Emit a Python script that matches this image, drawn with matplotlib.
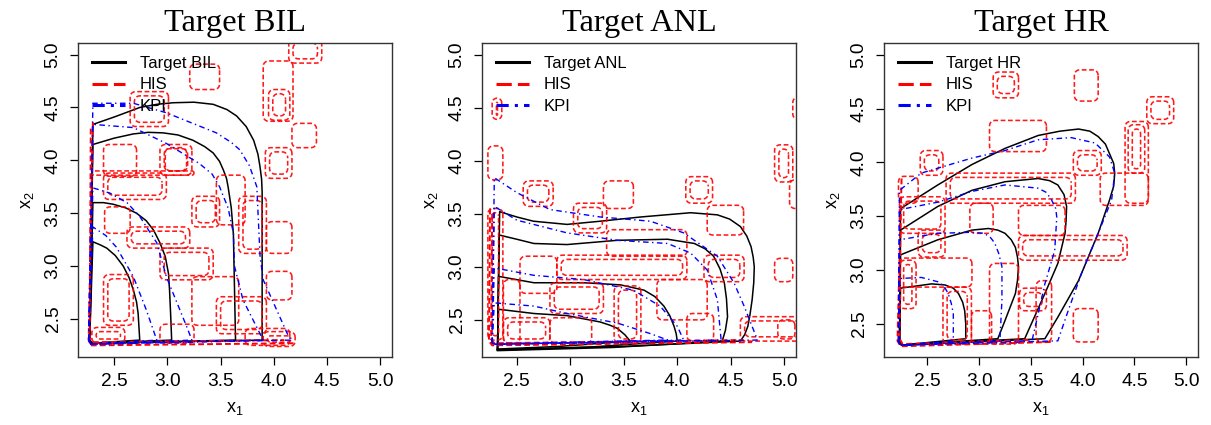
import numpy as np
import matplotlib.pyplot as plt
from matplotlib.lines import Line2D

plt.rcParams['font.family'] = ['Liberation Sans', 'DejaVu Sans']
plt.rcParams['mathtext.fontset'] = 'custom'
plt.rcParams['mathtext.rm'] = 'Liberation Sans'
plt.rcParams['mathtext.it'] = 'Liberation Sans'

# ---- Target BIL ----
bil_target = [
    ([2.27, 2.30, 2.50, 2.74, 2.90, 3.055, 3.25, 3.43, 3.56, 3.65, 3.74, 3.81, 3.85, 3.87, 3.885, 3.89, 3.89, 2.29, 2.27],
     [2.30, 4.34, 4.41, 4.50, 4.53, 4.545, 4.55, 4.53, 4.48, 4.42, 4.32, 4.19, 4.06, 3.94, 3.82, 3.70, 2.30, 2.27, 2.30]),
    ([2.27, 2.30, 2.50, 2.68, 2.82, 2.96, 3.10, 3.24, 3.35, 3.43, 3.49, 3.525, 3.555, 3.57, 3.60, 3.62, 3.64, 2.29, 2.27],
     [2.30, 4.15, 4.21, 4.25, 4.265, 4.26, 4.24, 4.19, 4.13, 4.07, 3.99, 3.91, 3.83, 3.75, 3.55, 3.30, 2.30, 2.27, 2.30]),
    ([2.27, 2.30, 2.40, 2.49, 2.61, 2.71, 2.80, 2.87, 2.93, 2.98, 3.01, 3.02, 3.03, 3.04, 2.29, 2.27],
     [2.30, 3.60, 3.60, 3.585, 3.55, 3.50, 3.43, 3.34, 3.22, 3.09, 2.93, 2.775, 2.55, 2.30, 2.27, 2.30]),
    ([2.27, 2.30, 2.37, 2.43, 2.51, 2.585, 2.64, 2.68, 2.71, 2.725, 2.74, 2.29, 2.27],
     [2.30, 3.23, 3.20, 3.17, 3.10, 3.00, 2.89, 2.775, 2.66, 2.55, 2.30, 2.27, 2.30]),
]
bil_kpi = [
    ([2.26, 2.30, 2.68, 2.99, 3.46, 3.60, 3.68, 3.77, 3.84, 3.87, 3.90, 4.14, 4.17, 2.28, 2.26],
     [2.30, 4.54, 4.54, 4.45, 4.26, 4.17, 4.10, 3.95, 3.75, 3.10, 2.87, 2.33, 2.30, 2.26, 2.30]),
    ([2.26, 2.30, 2.68, 2.99, 3.30, 3.42, 3.49, 3.57, 3.62, 3.63, 3.71, 3.90, 2.28, 2.26],
     [2.30, 4.34, 4.31, 4.16, 3.97, 3.87, 3.75, 3.55, 3.31, 3.00, 2.68, 2.30, 2.26, 2.30]),
    ([2.26, 2.30, 2.46, 2.62, 2.74, 2.90, 2.99, 3.18, 3.23, 2.28, 2.26],
     [2.30, 3.74, 3.69, 3.60, 3.47, 3.22, 2.90, 2.43, 2.30, 2.26, 2.30]),
    ([2.26, 2.30, 2.42, 2.52, 2.68, 2.80, 2.90, 2.28, 2.26],
     [2.30, 3.37, 3.29, 3.18, 2.90, 2.59, 2.30, 2.26, 2.30]),
]
bil_his = [
    (4.14, 4.45, 4.92, 5.15), (3.90, 4.18, 4.37, 4.94), (3.95, 4.15, 4.38, 4.67),
    (4.17, 4.40, 4.12, 4.35), (3.92, 4.17, 3.83, 4.12), (3.21, 3.49, 4.67, 4.91),
    (2.65, 3.01, 4.32, 4.65), (2.40, 2.71, 3.85, 4.15), (2.93, 3.23, 3.86, 4.15),
    (2.98, 3.18, 3.90, 4.12), (2.40, 2.99, 3.63, 3.88), (2.29, 3.25, 3.86, 3.90),
    (3.23, 3.49, 3.37, 3.66), (3.46, 3.73, 3.39, 3.86), (3.67, 3.93, 3.12, 3.66),
    (3.93, 4.17, 3.12, 3.42), (2.62, 3.21, 3.17, 3.37), (2.41, 2.65, 3.31, 3.56),
    (2.93, 3.43, 2.87, 3.17), (3.23, 3.67, 2.44, 2.90), (3.46, 3.93, 2.36, 2.71),
    (3.93, 4.17, 2.68, 2.95), (2.40, 2.68, 2.44, 2.92), (3.73, 4.15, 2.25, 2.41),
    (3.90, 4.20, 2.24, 2.38), (2.93, 3.25, 2.27, 2.45), (2.29, 2.60, 2.27, 2.42),
]
bil_edges = [
    ([2.30, 2.26, 2.28, 4.20], [4.36, 2.30, 2.25, 2.27]),
    ([2.28, 2.27, 2.30, 4.10], [4.30, 2.32, 2.28, 2.30]),
]

# ---- Target ANL ----
anl_target = [
    ([2.32, 2.34, 2.50, 2.656, 2.97, 3.28, 3.66, 4.125, 4.375, 4.49, 4.59, 4.65, 4.69, 4.71, 4.72, 4.715, 4.70, 4.68, 4.66, 4.63, 4.59, 3.50, 2.32],
     [2.22, 3.52, 3.47, 3.43, 3.40, 3.43, 3.47, 3.51, 3.49, 3.45, 3.38, 3.29, 3.19, 3.09, 3.00, 2.85, 2.69, 2.55, 2.44, 2.36, 2.30, 2.25, 2.22]),
    ([2.32, 2.335, 2.50, 2.66, 2.97, 3.44, 3.91, 4.16, 4.26, 4.34, 4.40, 4.44, 4.46, 4.47, 4.45, 4.42, 3.40, 2.32],
     [2.22, 3.30, 3.26, 3.22, 3.21, 3.25, 3.26, 3.22, 3.17, 3.10, 2.98, 2.85, 2.70, 2.53, 2.40, 2.30, 2.24, 2.21]),
    ([2.32, 2.33, 2.66, 3.125, 3.47, 3.69, 3.79, 3.875, 3.93, 3.97, 3.99, 4.00, 3.20, 2.32],
     [2.22, 2.91, 2.85, 2.85, 2.83, 2.78, 2.72, 2.63, 2.54, 2.44, 2.37, 2.30, 2.245, 2.215]),
    ([2.32, 2.33, 2.66, 2.97, 3.28, 3.37, 3.44, 3.51, 3.56, 2.90, 2.32],
     [2.22, 2.60, 2.56, 2.54, 2.48, 2.45, 2.42, 2.36, 2.30, 2.25, 2.225]),
]
anl_kpi = [
    ([2.27, 2.29, 2.50, 2.81, 3.28, 3.75, 4.06, 4.375, 4.53, 4.625, 4.75, 3.50, 2.30, 2.27],
     [2.28, 3.84, 3.70, 3.54, 3.47, 3.43, 3.32, 3.10, 2.85, 2.63, 2.31, 2.29, 2.27, 2.28]),
    ([2.27, 2.29, 2.50, 2.97, 3.44, 3.91, 4.125, 4.28, 4.375, 4.41, 3.40, 2.30, 2.27],
     [2.28, 3.57, 3.44, 3.32, 3.25, 3.22, 3.13, 2.97, 2.69, 2.31, 2.29, 2.27, 2.28]),
    ([2.27, 2.29, 2.66, 3.125, 3.59, 3.84, 4.00, 4.06, 3.20, 2.30, 2.27],
     [2.28, 2.99, 2.92, 2.88, 2.78, 2.63, 2.44, 2.31, 2.29, 2.27, 2.28]),
    ([2.27, 2.29, 2.66, 2.97, 3.44, 3.75, 3.91, 3.00, 2.30, 2.27],
     [2.28, 2.66, 2.63, 2.56, 2.47, 2.37, 2.31, 2.29, 2.27, 2.28]),
]
anl_his = [
    (2.27, 2.36, 4.39, 4.59), (2.23, 2.37, 3.82, 4.14), (2.56, 2.84, 3.57, 3.81),
    (3.31, 3.59, 3.55, 3.81), (4.08, 4.33, 3.60, 3.85), (4.28, 4.62, 3.30, 3.58),
    (4.91, 5.08, 3.80, 4.15), (5.05, 5.20, 3.55, 3.82), (5.08, 5.20, 4.39, 4.60),
    (4.91, 5.08, 2.86, 3.08), (4.59, 5.20, 2.30, 2.53), (4.94, 5.10, 2.32, 2.50),
    (3.03, 3.34, 3.32, 3.60), (3.34, 4.09, 3.10, 3.35), (2.875, 4.09, 2.88, 3.11),
    (2.53, 2.875, 2.75, 3.10), (4.25, 4.625, 2.86, 3.11), (3.81, 4.28, 2.50, 2.88),
    (2.81, 3.31, 2.56, 2.85), (2.375, 2.53, 2.28, 2.88), (2.375, 2.81, 2.28, 2.52),
    (2.81, 3.20, 2.28, 2.52), (3.41, 3.66, 2.28, 2.82), (4.09, 4.34, 2.30, 2.56),
    (2.23, 2.37, 2.31, 3.55),
]
anl_edges = [
    ([2.25, 2.24, 2.27, 4.70], [3.55, 2.30, 2.26, 2.29]),
    ([2.27, 2.26, 2.29, 4.60], [3.50, 2.32, 2.28, 2.31]),
]

# ---- Target HR ----
hr_target = [
    ([2.23, 2.24, 2.60, 2.93, 3.25, 3.57, 3.78, 3.96, 4.07, 4.15, 4.22, 4.26, 4.30, 4.31, 4.30, 4.26, 4.15, 3.96, 3.76, 3.635, 2.25, 2.23],
     [2.33, 3.57, 3.79, 3.98, 4.13, 4.25, 4.29, 4.31, 4.29, 4.24, 4.17, 4.08, 3.99, 3.90, 3.78, 3.65, 3.34, 2.90, 2.56, 2.36, 2.30, 2.33]),
    ([2.23, 2.24, 2.60, 2.93, 3.25, 3.57, 3.68, 3.76, 3.82, 3.845, 3.84, 3.83, 3.76, 3.635, 3.44, 2.25, 2.23],
     [2.33, 3.37, 3.59, 3.74, 3.82, 3.85, 3.83, 3.79, 3.70, 3.59, 3.46, 3.34, 3.06, 2.78, 2.36, 2.30, 2.33]),
    ([2.23, 2.24, 2.60, 2.93, 3.09, 3.18, 3.25, 3.31, 3.35, 3.37, 3.38, 3.37, 3.35, 3.25, 3.18, 2.25, 2.23],
     [2.33, 3.14, 3.28, 3.37, 3.385, 3.37, 3.34, 3.28, 3.21, 3.12, 3.03, 2.90, 2.78, 2.53, 2.36, 2.30, 2.33]),
    ([2.23, 2.24, 2.54, 2.67, 2.75, 2.80, 2.84, 2.86, 2.87, 2.87, 2.25, 2.23],
     [2.33, 2.83, 2.87, 2.86, 2.83, 2.78, 2.70, 2.62, 2.50, 2.36, 2.30, 2.33]),
]
hr_kpi = [
    ([2.22, 2.23, 2.44, 2.93, 3.25, 3.57, 3.89, 4.12, 4.26, 4.31, 4.28, 4.15, 3.99, 3.86, 3.76, 2.24, 2.22],
     [2.33, 3.74, 3.90, 4.04, 4.11, 4.21, 4.23, 4.18, 4.05, 3.90, 3.65, 3.34, 2.97, 2.62, 2.34, 2.30, 2.33]),
    ([2.22, 2.23, 2.60, 2.93, 3.25, 3.57, 3.65, 3.70, 3.74, 3.75, 3.73, 3.635, 3.57, 3.51, 2.24, 2.22],
     [2.33, 3.56, 3.63, 3.73, 3.79, 3.76, 3.72, 3.65, 3.57, 3.49, 3.18, 2.87, 2.59, 2.34, 2.30, 2.33]),
    ([2.22, 2.23, 2.60, 2.93, 3.05, 3.11, 3.15, 3.19, 3.22, 3.22, 3.20, 2.24, 2.22],
     [2.33, 3.28, 3.34, 3.35, 3.34, 3.30, 3.25, 3.15, 3.03, 2.72, 2.34, 2.30, 2.33]),
    ([2.22, 2.23, 2.44, 2.60, 2.66, 2.70, 2.73, 2.75, 2.75, 2.24, 2.22],
     [2.33, 2.92, 2.93, 2.89, 2.85, 2.78, 2.69, 2.59, 2.34, 2.30, 2.33]),
]
hr_his = [
    (3.135, 3.38, 4.60, 4.84), (3.92, 4.15, 4.57, 4.86), (4.62, 4.88, 4.36, 4.61),
    (4.41, 4.635, 3.62, 4.38), (4.44, 4.60, 3.90, 4.35), (4.17, 4.635, 3.60, 3.90),
    (3.91, 4.18, 3.88, 4.11), (3.10, 3.65, 4.10, 4.39), (2.43, 2.65, 3.88, 4.11),
    (2.22, 2.41, 3.62, 3.87), (2.68, 3.93, 3.62, 3.90), (3.38, 3.83, 3.32, 3.60),
    (3.38, 4.43, 3.09, 3.32), (2.91, 3.135, 3.34, 3.62), (2.41, 2.67, 3.12, 3.37),
    (2.23, 2.93, 2.84, 3.11), (2.23, 2.39, 2.64, 3.09), (3.91, 4.15, 2.33, 2.64),
    (3.39, 3.65, 2.62, 2.83), (2.925, 3.12, 2.31, 2.62), (2.65, 2.925, 2.31, 2.84),
    (3.10, 3.38, 2.31, 3.06), (2.23, 2.67, 3.34, 3.68), (3.55, 3.70, 2.33, 2.90),
]
hr_edges = [
    ([2.25, 2.21, 2.24, 3.70], [3.85, 2.34, 2.29, 2.33]),
    ([2.24, 2.23, 2.26, 3.50], [3.60, 2.36, 2.31, 2.35]),
]

titles = ['Target BIL', 'Target ANL', 'Target HR']
targets = [bil_target, anl_target, hr_target]
kpis = [bil_kpi, anl_kpi, hr_kpi]
hiss = [bil_his, anl_his, hr_his]
edges = [bil_edges, anl_edges, hr_edges]
xlims = [(2.16, 5.11), (2.175, 5.11), (2.08, 5.115)]
ylims = [(2.14, 5.11), (2.15, 5.11), (2.19, 5.11)]
ticks = [2.5, 3.0, 3.5, 4.0, 4.5, 5.0]


def rbox(b, r=0.05, inset=0.0):
    x0, x1, y0, y1 = b
    x0, x1, y0, y1 = x0 + inset, x1 - inset, y0 + inset, y1 - inset
    r = min(r, (x1 - x0) / 2, (y1 - y0) / 2)
    t = np.linspace(0, np.pi / 2, 6)
    xs, ys = [], []
    for cx, cy, a in [(x1 - r, y1 - r, 0), (x0 + r, y1 - r, np.pi / 2),
                      (x0 + r, y0 + r, np.pi), (x1 - r, y0 + r, 1.5 * np.pi)]:
        xs += list(cx + r * np.cos(a + t))
        ys += list(cy + r * np.sin(a + t))
    return xs + xs[:1], ys + ys[:1]


W, H = 1211, 425
fig = plt.figure(figsize=(W / 100, H / 100), dpi=100)
lefts = [78, 482, 884]
red_ls = (0, (3, 1.6))
blue_ls = (0, (4, 2.5, 1, 2.5))

for i in range(3):
    ax = fig.add_axes([lefts[i] / W, (H - 357) / H, 314 / W, 314 / H])
    for xs, ys in targets[i]:
        ax.plot(xs, ys, color='black', lw=1.1)
    for j, b in enumerate(hiss[i]):
        # every other HIS box gets a second (nested) level line
        insets = [0.0, 0.04] if j % 2 == 0 else [0.0]
        for k, ins in enumerate(insets):
            xs, ys = rbox(b, inset=ins)
            ax.plot(xs, ys, color='red', lw=1.15, ls=(k * 2, (3, 1.6)), alpha=0.9)
    for xs, ys in edges[i]:
        ax.plot(xs, ys, color='red', lw=1.4, ls=red_ls)
    for xs, ys in kpis[i]:
        ax.plot(xs, ys, color='blue', lw=1.0, ls=blue_ls)

    ax.set_xlim(xlims[i])
    ax.set_ylim(ylims[i])
    ax.set_xticks(ticks)
    ax.set_yticks(ticks)
    ax.set_xticklabels([f'{t:.1f}' for t in ticks])
    ax.set_yticklabels([f'{t:.1f}' for t in ticks], rotation=90, va='center')
    ax.tick_params(direction='out', length=5.8, width=0.9, labelsize=13.8, pad=6)
    for s in ax.spines.values():
        s.set_color('#333333')
        s.set_linewidth(1.0)
    ax.set_xlabel(r'$\mathregular{x_1}$', fontsize=13, labelpad=7)
    ax.set_ylabel(r'$\mathregular{x_2}$', fontsize=13, labelpad=6)
    ax.set_title(titles[i], fontsize=23.3, family='Liberation Serif', pad=9)

    handles = [Line2D([], [], color='black', lw=2.2),
               Line2D([], [], color='red', lw=2.2, ls=(0, (5, 2))),
               Line2D([], [], color='blue', lw=2.2, ls=(0, (4, 2, 1, 2)))]
    ax.legend(handles, [titles[i], 'HIS', 'KPI'], loc='upper left',
              bbox_to_anchor=(0.045, 0.958), frameon=False, fontsize=12,
              handlelength=2.0, handletextpad=0.85, labelspacing=0.37,
              borderpad=0, borderaxespad=0)

fig.savefig('out.png', dpi=100)
